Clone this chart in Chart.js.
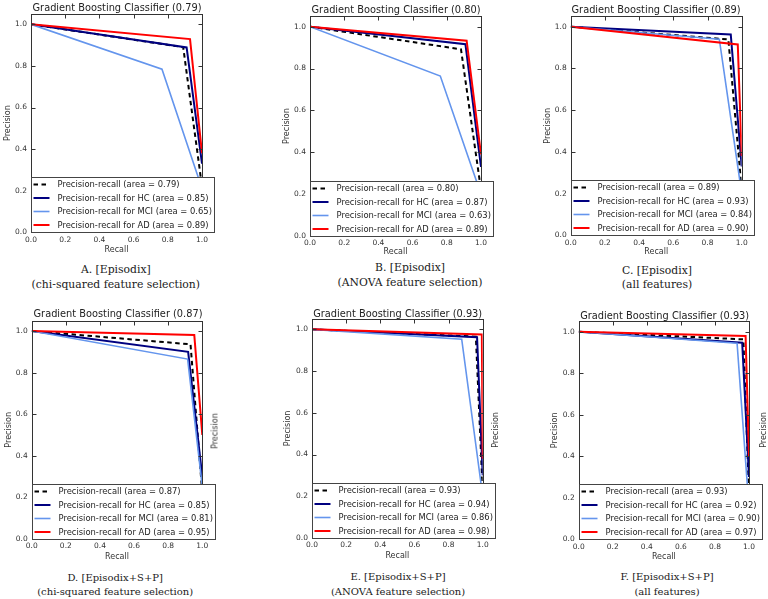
<!DOCTYPE html>
<html>
<head>
<meta charset="utf-8">
<script src="https://cdn.jsdelivr.net/npm/chart.js@4.4.1/dist/chart.umd.min.js"></script>
<style>
  body { margin: 0; background: #fff; }
  #page { position: relative; width: 768px; height: 599px; overflow: hidden; background: #fff; }
  #page canvas { position: absolute; }
  .lbl { position: absolute; white-space: nowrap; transform: translate(-50%, -50%); color: #222; z-index: 2; }
  .title { font: 9.8px "DejaVu Sans", sans-serif; }
  .cap { font: 10.8px "DejaVu Serif", serif; color: #1a1a1a; }
  .cap.low { font-size: 10px; }
  .side { font: 8px "DejaVu Sans", sans-serif; color: #333; transform: translate(-50%, -50%) rotate(-90deg); }
</style>
</head>
<body>
<div id="page"></div>
<script>
//-------------------- values --------------------
const classNames = ['', 'HC', 'MCI', 'AD'];
const xTicks = [0, 0.2, 0.4, 0.6, 0.8, 1.0];
const yTicks = [0, 0.2, 0.4, 0.6, 0.8, 1.0];
const scores = [0.79, 0.80, 0.89, 0.87, 0.93, 0.93];
const captionTop = ['A. [Episodix]', 'B. [Episodix]', 'C. [Episodix]',
  'D. [Episodix+S+P]', 'E. [Episodix+S+P]', 'F. [Episodix+S+P]'];
const captionBottom = ['(chi-squared feature selection)', '(ANOVA feature selection)', '(all features)',
  '(chi-squared feature selection)', '(ANOVA feature selection)', '(all features)'];

// order in every panel: micro average, HC, MCI, AD
const recallA = [[0, 0.89, 1], [0, 0.91, 1], [0, 0.766, 1], [0, 0.93, 1]];
const precisionA = [[1, 0.89, 0.22], [1, 0.889, 0.33], [1, 0.784, 0.21], [1, 0.929, 0.38]];
const areasA = [0.79, 0.85, 0.65, 0.89];

const recallB = [[0, 0.883, 1], [0, 0.909, 1], [0, 0.762, 1], [0, 0.916, 1]];
const precisionB = [[1, 0.892, 0.22], [1, 0.916, 0.33], [1, 0.764, 0.2], [1, 0.933, 0.39]];
const areasB = [0.80, 0.87, 0.63, 0.89];

const recallC = [[0, 0.922, 1], [0, 0.936, 1], [0, 0.869, 1], [0, 0.977, 1]];
const precisionC = [[1, 0.939, 0.22], [1, 0.963, 0.33], [1, 0.94, 0.2], [1, 0.915, 0.38]];
const areasC = [0.89, 0.93, 0.84, 0.90];

const recallD = [[0, 0.931, 1], [0, 0.917, 1], [0, 0.914, 1], [0, 0.953, 1]];
const precisionD = [[1, 0.936, 0.22], [1, 0.90, 0.3], [1, 0.865, 0.25], [1, 0.981, 0.5]];
const areasD = [0.87, 0.85, 0.81, 0.95];

const recallE = [[0, 0.96, 1], [0, 0.967, 1], [0, 0.877, 1], [0, 0.995, 1]];
const precisionE = [[1, 0.965, 0.22], [1, 0.962, 0.3], [1, 0.953, 0.2], [1, 0.975, 0.38]];
const areasE = [0.93, 0.94, 0.86, 0.98];

const recallF = [[0, 0.967, 1], [0, 0.96, 1], [0, 0.93, 1], [0, 0.98, 1]];
const precisionF = [[1, 0.963, 0.22], [1, 0.947, 0.3], [1, 0.944, 0.15], [1, 0.979, 0.4]];
const areasF = [0.93, 0.92, 0.90, 0.97];

const recalls = [recallA, recallB, recallC, recallD, recallE, recallF];
const precisions = [precisionA, precisionB, precisionC, precisionD, precisionE, precisionF];
const areas = [areasA, areasB, areasC, areasD, areasE, areasF];

//-------------------- look and placement --------------------
const seriesColors = ['#000000', '#000080', '#6495ed', '#ff0000'];
const seriesWidths = [2, 2, 1.6, 2];
const seriesDash = [[4.5, 3.5], [], [], []];

// ox/oy = panel origin, L/R = x 0..1, T/B = y 1.05..0, yt/xt = axis titles,
// tx/ty = title centre, cx/cy1/cy2 = caption centres
const boxes = [
  {ox: 0,   oy: 0,   L: 31,    R: 202,   T: 13.9,  B: 232.3, yt: 8,     xt: 250,   tx: 117,   ty: 7,     cx: 115.8, cy1: 269.3, cy2: 284},
  {ox: 256, oy: 0,   L: 310,   R: 481,   T: 16.2,  B: 236,   yt: 286.7, xt: 252.3, tx: 396,   ty: 9.3,   cx: 410,   cy1: 266.7, cy2: 281.7},
  {ox: 512, oy: 0,   L: 570.7, R: 741.7, T: 16.3,  B: 235.3, yt: 548,   xt: 252.3, tx: 656,   ty: 9.3,   cx: 657,   cy1: 270,   cy2: 284},
  {ox: 0,   oy: 300, L: 31.7,  R: 202.3, T: 320.6, B: 539,   yt: 9.3,   xt: 556.7, tx: 118,   ty: 313.3, cx: 115.2, cy1: 576.7, cy2: 591},
  {ox: 256, oy: 300, L: 312,   R: 482.7, T: 318.9, B: 538,   yt: 288.3, xt: 555.7, tx: 397.7, ty: 312.7, cx: 398,   cy1: 576,   cy2: 590.7},
  {ox: 512, oy: 300, L: 578.7, R: 749,   T: 321.3, B: 539.3, yt: 555.3, xt: 557.3, tx: 664.7, ty: 315,   cx: 667,   cy1: 576,   cy2: 590.7}
];
// clipped y labels of neighbouring plots that show at the right edges
const strayLabels = [[215, 431], [495.3, 430], [762.7, 430]];

const page = document.getElementById('page');

function addLabel(cls, text, x, y) {
  const d = document.createElement('div');
  d.className = 'lbl ' + cls;
  d.textContent = text;
  d.style.left = x + 'px';
  d.style.top = y + 'px';
  page.appendChild(d);
}

// frame with inward ticks, then the legend box on top of the curves (lower left)
const prFrameLegend = {
  id: 'prFrameLegend',
  afterDatasetsDraw(chart) {
    const {ctx, chartArea: a, scales: {x, y}} = chart;
    ctx.save();
    const l = Math.round(a.left) + 0.5, r = Math.round(a.right) + 0.5;
    const t = Math.round(a.top) + 0.5, b = Math.round(a.bottom) + 0.5;
    ctx.strokeStyle = '#333';
    ctx.lineWidth = 1;
    ctx.strokeRect(l, t, r - l, b - t);
    ctx.beginPath();
    xTicks.forEach(v => {
      const px = Math.round(x.getPixelForValue(v)) + 0.5;
      ctx.moveTo(px, b); ctx.lineTo(px, b - 4);
      ctx.moveTo(px, t); ctx.lineTo(px, t + 4);
    });
    yTicks.forEach(v => {
      const py = Math.round(y.getPixelForValue(v)) + 0.5;
      ctx.moveTo(l, py); ctx.lineTo(l + 4, py);
      ctx.moveTo(r, py); ctx.lineTo(r - 4, py);
    });
    ctx.stroke();

    ctx.font = '8.4px "DejaVu Sans"';
    const sets = chart.data.datasets;
    const textW = Math.max(...sets.map(d => ctx.measureText(d.label).width));
    const rowH = 13.5;
    const boxH = Math.round(sets.length * rowH + 1);
    const boxW = Math.round(textW + 29);
    const top = b - boxH;
    ctx.fillStyle = '#fff';
    ctx.fillRect(l, top, boxW, boxH);
    ctx.strokeStyle = '#444';
    ctx.strokeRect(l, top, boxW, boxH);
    sets.forEach((d, k) => {
      const cy = top + 7 + k * rowH;
      ctx.beginPath();
      ctx.setLineDash(d.borderDash);
      ctx.strokeStyle = d.borderColor;
      ctx.lineWidth = d.borderWidth;
      ctx.moveTo(l + 2, cy); ctx.lineTo(l + 18, cy);
      ctx.stroke();
      ctx.setLineDash([]);
      ctx.fillStyle = '#222';
      ctx.textBaseline = 'middle';
      ctx.textAlign = 'left';
      ctx.fillText(d.label, l + 26, cy + 0.5);
    });
    ctx.restore();
  }
};

boxes.forEach((g, i) => {
  const cw = 256;
  const ch = Math.round(g.xt - g.oy + 8);
  const canvas = document.createElement('canvas');
  canvas.width = cw;
  canvas.height = ch;
  canvas.style.left = g.ox + 'px';
  canvas.style.top = g.oy + 'px';
  page.appendChild(canvas);

  const datasets = classNames.map((name, k) => ({
    label: 'Precision-recall ' + (name ? 'for ' + name + ' ' : '') + '(area = ' + areas[i][k].toFixed(2) + ')',
    data: recalls[i][k].map((r, j) => ({x: r, y: precisions[i][k][j]})),
    showLine: true,
    fill: false,
    tension: 0,
    pointRadius: 0,
    borderColor: seriesColors[k],
    borderWidth: seriesWidths[k],
    borderDash: seriesDash[k],
    order: 3 - k
  }));

  const axisFont = {family: 'DejaVu Sans', size: 8, lineHeight: 1.2};
  const tickFont = {family: 'DejaVu Sans', size: 7.5};
  new Chart(canvas, {
    type: 'scatter',
    data: {datasets: datasets},
    options: {
      responsive: false,
      animation: false,
      devicePixelRatio: 1,
      layout: {padding: {left: 0, bottom: 0, top: g.T - g.oy, right: cw - (g.R - g.ox)}},
      plugins: {legend: {display: false}, tooltip: {enabled: false}},
      scales: {
        x: {
          type: 'linear', min: 0, max: 1,
          afterBuildTicks: s => { s.ticks = xTicks.map(v => ({value: v})); },
          afterFit: s => { s.height = ch - (g.B - g.oy); },
          grid: {display: false, drawTicks: false},
          border: {display: false},
          ticks: {font: tickFont, color: '#333', padding: 3, maxRotation: 0, autoSkip: false,
                  callback: v => v.toFixed(1)},
          title: {display: true, text: 'Recall', font: axisFont, color: '#333',
                  padding: {top: 0, bottom: ch - (g.xt - g.oy) - 4.8}}
        },
        y: {
          type: 'linear', min: 0, max: 1.05,
          afterBuildTicks: s => { s.ticks = yTicks.map(v => ({value: v})); },
          afterFit: s => { s.width = g.L - g.ox; },
          grid: {display: false, drawTicks: false},
          border: {display: false},
          ticks: {font: tickFont, color: '#333', padding: 4, callback: v => v.toFixed(1)},
          title: {display: true, text: 'Precision', font: axisFont, color: '#333',
                  padding: {top: (g.yt - g.ox) - 4.8, bottom: 0}}
        }
      }
    },
    plugins: [prFrameLegend]
  });

  const capClass = g.oy > 0 ? 'cap low' : 'cap';
  addLabel('title', 'Gradient Boosting Classifier (' + scores[i].toFixed(2) + ')', g.tx, g.ty);
  addLabel(capClass, captionTop[i], g.cx, g.cy1);
  addLabel(capClass, captionBottom[i], g.cx, g.cy2);
});

strayLabels.forEach(p => addLabel('side', 'Precision', p[0], p[1]));
</script>
</body>
</html>
